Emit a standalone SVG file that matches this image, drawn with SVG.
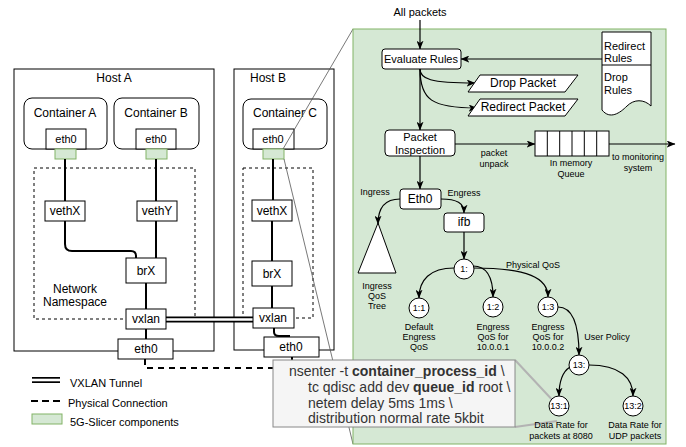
<svg xmlns="http://www.w3.org/2000/svg" width="686" height="447" viewBox="0 0 686 447">
<style>
text{font-family:"Liberation Sans",Arial,sans-serif;fill:#000}
.box{fill:#fff;stroke:#000;stroke-width:1}
.t12{font-size:12px}
.t11{font-size:11px}
.t9{font-size:9px}
.c{text-anchor:middle;dominant-baseline:central}
.l{dominant-baseline:central}
.wire{fill:none;stroke:#000;stroke-width:2}
.ns{fill:none;stroke:#000;stroke-width:1;stroke-dasharray:3 3}
.g5{fill:#d5e8d4;stroke:#82b366;stroke-width:1}
.arr{fill:none;stroke:#000;stroke-width:1.2;marker-end:url(#ah)}
.zoom{fill:none;stroke:#555;stroke-width:0.8}
.circ{fill:#fff;stroke:#000;stroke-width:1}
.code{font-size:14px;fill:#333}
</style>
<defs>
<marker id="ah" viewBox="0 0 10 8" markerWidth="9" markerHeight="7" refX="9.5" refY="4" orient="auto" markerUnits="userSpaceOnUse">
<path d="M0,0 L10,4 L0,8 L2.5,4 z" fill="#000"/>
</marker>
</defs>
<rect width="686" height="447" fill="#fff"/>

<!-- Host A -->
<g id="hostA">
<rect class="box" x="14" y="69" width="200" height="282"/>
<text class="t12 c" x="114" y="78">Host A</text>
</g>
<g id="containerA">
<rect class="box" x="24" y="98" width="83" height="51" rx="8"/>
<text class="t12 c" x="65" y="113">Container A</text>
<rect class="box" x="46" y="129" width="40" height="20"/>
<text class="t11 c" x="66" y="139">eth0</text>
<rect class="g5" x="55" y="149" width="21" height="10"/>
</g>
<g id="containerB">
<rect class="box" x="114" y="98" width="85" height="51" rx="8"/>
<text class="t12 c" x="156" y="113">Container B</text>
<rect class="box" x="136" y="129" width="40" height="20"/>
<text class="t11 c" x="156" y="139">eth0</text>
<rect class="g5" x="146" y="149" width="21" height="10"/>
</g>
<g id="nsA">
<rect class="ns" x="34" y="168" width="161" height="151"/>
<text class="t12 c" x="75" y="289">Network</text>
<text class="t12 c" x="75" y="302">Namespace</text>
</g>

<!-- Host B -->
<g id="hostB">
<rect class="box" x="234" y="69" width="100" height="281"/>
<text class="t12 c" x="268" y="78">Host B</text>
</g>
<g id="containerC">
<rect class="box" x="243" y="99" width="84" height="50" rx="8"/>
<text class="t12 c" x="285" y="113">Container C</text>
<rect class="box" x="253" y="129" width="41" height="20"/>
<text class="t11 c" x="273" y="139">eth0</text>
<rect class="g5" x="263" y="149" width="21" height="10"/>
</g>
<g id="nsB">
<rect class="ns" x="243" y="168" width="70" height="150"/>
</g>

<!-- connectors -->
<g id="connectors">
<path class="wire" d="M65,159 V201"/>
<path class="wire" d="M156,159 V201"/>
<path class="wire" d="M65,221 V244 Q65,251 72,251 H131 Q136,251 136,256 V258"/>
<path class="wire" d="M156,221 V258"/>
<path class="wire" d="M146,283 V309"/>
<path class="wire" d="M146,329 V339"/>
<path class="wire" d="M273,159 V200"/>
<path class="wire" d="M272,221 V261"/>
<path class="wire" d="M272,286 V308"/>
<path class="wire" d="M274,328 V332 Q274,336 279,336 H290"/>
<path fill="none" stroke="#000" stroke-width="6" d="M166,319.5 H253"/>
<path fill="none" stroke="#fff" stroke-width="2.6" d="M165,319.5 H254"/>
<path fill="none" stroke="#000" stroke-width="2" stroke-dasharray="6 5" d="M145,359 V368 H292 V357"/>
</g>

<g id="vethXA"><rect class="box" x="45" y="201" width="40" height="20"/><text class="t12 c" x="65" y="211">vethX</text></g>
<g id="vethYA"><rect class="box" x="137" y="201" width="40" height="20"/><text class="t12 c" x="157" y="211">vethY</text></g>
<g id="brXA"><rect class="box" x="126" y="258" width="40" height="25"/><text class="t12 c" x="146" y="271">brX</text></g>
<g id="vxlanA"><rect class="box" x="126" y="309" width="40" height="20"/><text class="t12 c" x="146" y="319">vxlan</text></g>
<g id="eth0A"><rect class="box" x="118" y="339" width="55" height="20"/><text class="t12 c" x="146" y="349">eth0</text></g>

<g id="vethXB"><rect class="box" x="252" y="200" width="40" height="21"/><text class="t12 c" x="272" y="211">vethX</text></g>
<g id="brXB"><rect class="box" x="252" y="261" width="40" height="25"/><text class="t12 c" x="272" y="274">brX</text></g>
<g id="vxlanB"><rect class="box" x="253" y="308" width="41" height="20"/><text class="t12 c" x="273" y="318">vxlan</text></g>
<g id="eth0B"><rect class="box" x="264" y="337" width="55" height="20"/><text class="t12 c" x="291" y="347">eth0</text></g>
<path fill="none" stroke="#000" stroke-width="2" d="M292,357 V361"/>

<!-- zoom lines -->
<g id="zoomlines">
<path class="zoom" d="M283,149 L353,29"/>
<path class="zoom" d="M284,159 L353,444"/>
</g>

<!-- green panel -->
<g id="panel">
<rect class="g5" x="353" y="29" width="313" height="415"/>
</g>

<!-- callout -->
<g id="callout">
<path fill="none" stroke="#b3b3b3" stroke-width="2" d="M515,360 L557,405 M557,421 L515,427"/>
<rect x="273" y="360" width="242" height="67" fill="#f5f5f5" stroke="#888" stroke-width="1"/>
<text class="code l" x="289" y="371">nsenter -t <tspan font-weight="bold">container_process_id</tspan> \</text>
<text class="code l" x="308" y="387">tc qdisc add dev <tspan font-weight="bold">queue_id</tspan> root \</text>
<text class="code l" x="308" y="403">netem delay 5ms 1ms \</text>
<text class="code l" x="308" y="418">distribution normal rate 5kbit</text>
</g>

<!-- panel contents -->
<g id="panel-connectors">
<path class="arr" d="M420,20 V49"/>
<path class="arr" d="M602,59 H461"/>
<path class="arr" d="M420,69 C420,79 430,83 475,83"/>
<path class="arr" d="M420,69 C420,100 432,108 477,108"/>
<path class="arr" d="M420,69 V130"/>
<path class="arr" d="M455,144 H535"/>
<path class="arr" d="M609,144 H675"/>
<path class="arr" d="M420,156 V189"/>
<path class="arr" d="M400,199 C386,199 378,206 378,224"/>
<path class="arr" d="M441,199 C457,199 464,203 464,213"/>
<path class="arr" d="M464,232 V259"/>
<path class="arr" d="M454,268 C430,268 419,280 419,298"/>
<path class="arr" d="M473,266 C487,266 493,278 493,297"/>
<path class="arr" d="M473,268 C528,268 548,278 548,297"/>
<path class="arr" d="M558,307 C575,307 579,330 579,355"/>
<path class="arr" d="M570,367 C562,372 559,382 559,396"/>
<path class="arr" d="M589,365 C620,365 633,378 633,396"/>
</g>
<text class="t11 c" x="420" y="12">All packets</text>
<g id="evaluate"><rect class="box" x="382" y="49" width="79" height="20" rx="3"/><text class="t11 c" x="421" y="59">Evaluate Rules</text></g>
<g id="rules">
<path class="box" d="M602,32 H651 V106 C644,99 634,99 627,106 C620,113 610,120 602,110 Z"/>
<path fill="none" stroke="#000" d="M602,65 H651"/>
<text class="t11 l" x="604" y="46">Redirect</text>
<text class="t11 l" x="604" y="58">Rules</text>
<text class="t11 l" x="604" y="77">Drop</text>
<text class="t11 l" x="604" y="90">Rules</text>
</g>
<g id="drop"><path class="box" d="M480,75 H578 L565,92 H468 Z"/><text class="t12 c" x="523" y="83">Drop Packet</text></g>
<g id="redirect"><path class="box" d="M480,99 H578 L565,116 H468 Z"/><text class="t12 c" x="523" y="107">Redirect Packet</text></g>
<g id="inspection"><rect class="box" x="385" y="130" width="70" height="26" rx="4"/><text class="t11 c" x="420" y="137">Packet</text><text class="t11 c" x="420" y="150">Inspection</text></g>
<text class="t9 c" x="494" y="153">packet</text>
<text class="t9 c" x="494" y="164">unpack</text>
<g id="queue">
<rect class="box" x="535" y="131" width="74" height="25"/>
<path fill="none" stroke="#000" d="M547.3,131 V156 M559.7,131 V156 M572,131 V156 M584.3,131 V156 M596.7,131 V156"/>
<text class="t9 c" x="571" y="163">In memory</text>
<text class="t9 c" x="571" y="174">Queue</text>
</g>
<text class="t9 c" x="638" y="157">to monitoring</text>
<text class="t9 c" x="638" y="168">system</text>
<g id="eth0panel"><rect class="box" x="400" y="189" width="41" height="20" rx="3"/><text class="t12 c" x="420" y="199">Eth0</text></g>
<text class="t9 c" x="375" y="192">Ingress</text>
<text class="t9 c" x="464" y="193">Engress</text>
<g id="ingressTree">
<path class="box" d="M378,223 L396,273 H358 Z"/>
<text class="t9 c" x="377" y="286">Ingress</text>
<text class="t9 c" x="377" y="296">QoS</text>
<text class="t9 c" x="377" y="306">Tree</text>
</g>
<g id="ifb"><rect class="box" x="444" y="213" width="40" height="19" rx="3"/><text class="t12 c" x="464" y="222">ifb</text></g>
<g id="q1"><circle class="circ" cx="464" cy="269" r="10"/><text class="t9 c" x="464" y="269">1:</text></g>
<text class="t9 c" x="533" y="265">Physical QoS</text>
<g id="q11"><circle class="circ" cx="419" cy="308" r="10"/><text class="t9 c" x="419" y="308">1:1</text>
<text class="t9 c" x="419" y="327">Default</text><text class="t9 c" x="419" y="337">Engress</text><text class="t9 c" x="419" y="347">QoS</text></g>
<g id="q12"><circle class="circ" cx="493" cy="307" r="10"/><text class="t9 c" x="493" y="307">1:2</text>
<text class="t9 c" x="493" y="327">Engress</text><text class="t9 c" x="493" y="337">QoS for</text><text class="t9 c" x="493" y="347">10.0.0.1</text></g>
<g id="q13"><circle class="circ" cx="548" cy="307" r="10"/><text class="t9 c" x="548" y="307">1:3</text>
<text class="t9 c" x="548" y="327">Engress</text><text class="t9 c" x="548" y="337">QoS for</text><text class="t9 c" x="548" y="347">10.0.0.2</text></g>
<text class="t9 c" x="607" y="337">User Policy</text>
<g id="q130"><circle class="circ" cx="579" cy="365" r="10"/><text class="t9 c" x="579" y="365">13:</text></g>
<g id="q131"><circle class="circ" cx="559" cy="406" r="10"/><text class="t9 c" x="559" y="406">13:1</text>
<text class="t9 c" x="561" y="425">Data Rate for</text><text class="t9 c" x="561" y="436">packets at 8080</text></g>
<g id="q132"><circle class="circ" cx="633" cy="406" r="10"/><text class="t9 c" x="633" y="406">13:2</text>
<text class="t9 c" x="635" y="425">Data Rate for</text><text class="t9 c" x="635" y="436">UDP packets</text></g>

<!-- legend -->
<g id="legend">
<path fill="none" stroke="#000" stroke-width="6" d="M32,380 H60"/>
<path fill="none" stroke="#fff" stroke-width="2.6" d="M31,380 H61"/>
<text class="t11 l" x="70" y="383">VXLAN Tunnel</text>
<path fill="none" stroke="#000" stroke-width="2" stroke-dasharray="7 4" d="M31,401 H61"/>
<text class="t11 l" x="68" y="403">Physical Connection</text>
<rect class="g5" x="32" y="414" width="30" height="10"/>
<text class="t11 l" x="70" y="422">5G-Slicer components</text>
</g>
</svg>
